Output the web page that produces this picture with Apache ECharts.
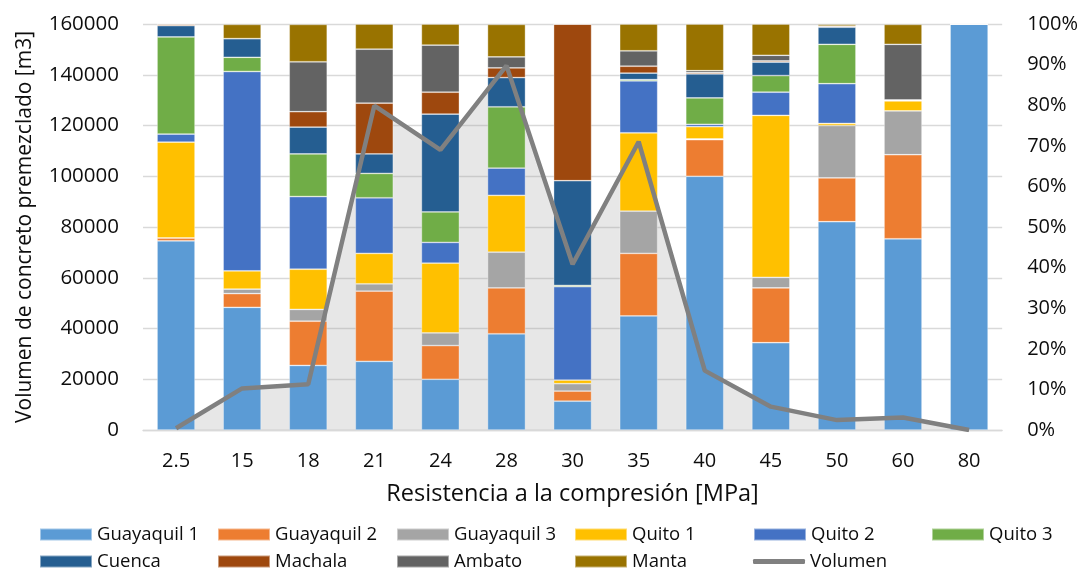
<!DOCTYPE html>
<html>
<head>
<meta charset="utf-8">
<script src="https://cdn.jsdelivr.net/npm/echarts@6/dist/echarts.min.js"></script>
<style>
  html, body { margin: 0; padding: 0; background: #ffffff; }
  #chart { width: 1081px; height: 571px; }
</style>
</head>
<body>
<div id="chart"></div>
<script>
// Resistencia del concreto premezclado (MPa) por categoría
const categories = ['2.5', '15', '18', '21', '24', '28', '30', '35', '40', '45', '50', '60', '80'];

// Participación de cada planta en el volumen de cada resistencia (%)
const guayaquil1 = [46.6, 30.2, 15.9, 16.9, 12.5, 23.7, 7.1, 28.1, 62.5, 21.5, 51.3, 47.1, 100];
const guayaquil2 = [0.7, 3.4, 10.9, 17.3, 8.3, 11.3, 2.5, 15.4, 9.0, 13.5, 10.8, 20.7, 0];
const guayaquil3 = [0, 1.1, 2.9, 1.8, 3.1, 8.8, 1.8, 10.4, 0.2, 2.6, 12.9, 10.8, 0];
const quito1     = [23.6, 4.5, 9.9, 7.5, 17.2, 14.0, 0.9, 19.3, 3.0, 39.9, 0.5, 2.5, 0];
const quito2     = [2.0, 49.1, 17.9, 13.7, 5.1, 6.7, 23.0, 12.8, 0.6, 5.7, 9.8, 0, 0];
const quito3     = [23.9, 3.5, 10.5, 6.0, 7.5, 15.1, 0.3, 0.3, 6.5, 4.1, 9.7, 0, 0];
const cuenca     = [2.8, 4.6, 6.6, 4.8, 24.1, 7.2, 25.8, 1.6, 5.9, 3.3, 4.2, 0, 0];
const machala    = [0.4, 0, 3.8, 12.5, 5.4, 2.4, 38.6, 1.7, 0.3, 0.3, 0.3, 0.2, 0];
const ambato     = [0, 0, 12.3, 13.3, 11.6, 2.7, 0, 3.8, 0.5, 1.4, 0, 13.7, 0];
const manta      = [0, 3.5, 9.2, 6.2, 5.2, 8.0, 0, 6.6, 11.5, 7.7, 0.4, 4.9, 0];

// Volumen total de concreto premezclado (m3)
const volumen = [700, 16400, 18000, 127800, 110400, 143600, 65300, 113600, 23400, 9200, 3900, 4900, 0];

// Escalas de los ejes
const leftTicks = { min: 0, max: 160000, interval: 20000 };
const rightTicks = { min: 0, max: 100, interval: 10 };

const FONT = '"Open Sans", "Noto Sans", sans-serif';
const TEXT = '#0d0d0d';

const plants = [
  { name: 'Guayaquil 1', data: guayaquil1, color: '#5B9BD5' },
  { name: 'Guayaquil 2', data: guayaquil2, color: '#ED7D31' },
  { name: 'Guayaquil 3', data: guayaquil3, color: '#A5A5A5' },
  { name: 'Quito 1',     data: quito1,     color: '#FFC000' },
  { name: 'Quito 2',     data: quito2,     color: '#4472C4' },
  { name: 'Quito 3',     data: quito3,     color: '#70AD47' },
  { name: 'Cuenca',      data: cuenca,     color: '#255E91' },
  { name: 'Machala',     data: machala,    color: '#9E480E' },
  { name: 'Ambato',      data: ambato,     color: '#636363' },
  { name: 'Manta',       data: manta,      color: '#997300' }
];

const LINE_COLOR = '#808080';

// Leyenda en dos filas de seis columnas
const colX = [39, 217, 396, 574, 753, 931];
const rowY = [525, 552];
const legendNames = plants.map(p => p.name).concat(['Volumen']);
const legends = legendNames.map((name, i) => ({
  data: [name],
  left: colX[i % 6],
  top: rowY[Math.floor(i / 6)],
  padding: 0,
  itemWidth: 52,
  itemHeight: name === 'Volumen' ? 5 : 12,
  icon: name === 'Volumen' ? 'roundRect' : 'rect',
  textStyle: { fontFamily: FONT, fontSize: 18.5, color: TEXT },
  selectedMode: false
}));

const series = [];

// Área sombreada bajo la curva de volumen
series.push({
  name: 'Volumen (área)',
  type: 'line',
  yAxisIndex: 0,
  data: volumen,
  symbol: 'none',
  lineStyle: { width: 0 },
  areaStyle: { color: 'rgba(160,160,160,0.36)', origin: 'start' },
  z: 1,
  silent: true
});

plants.forEach(p => {
  series.push({
    name: p.name,
    type: 'bar',
    stack: 'total',
    yAxisIndex: 1,
    barWidth: 38,
    data: p.data,
    itemStyle: { color: p.color, borderColor: 'rgba(255,255,255,0.45)', borderWidth: 0.75 },
    z: 2
  });
});

series.push({
  name: 'Volumen',
  type: 'line',
  yAxisIndex: 0,
  data: volumen,
  symbol: 'none',
  itemStyle: { color: LINE_COLOR },
  lineStyle: { color: LINE_COLOR, width: 4.5 },
  z: 5
});

const option = {
  animation: false,
  backgroundColor: '#ffffff',
  textStyle: { fontFamily: FONT },
  legend: legends,
  grid: { left: 143, right: 76, top: 24, bottom: 141, containLabel: false },
  xAxis: {
    type: 'category',
    data: categories,
    boundaryGap: true,
    axisLine: { show: true, lineStyle: { color: '#d9d9d9', width: 1.3 } },
    axisTick: { show: false },
    axisLabel: { fontFamily: FONT, fontSize: 20, color: TEXT, margin: 21 },
    name: 'Resistencia a la compresión [MPa]',
    nameLocation: 'middle',
    nameGap: 52,
    nameTextStyle: { fontFamily: FONT, fontSize: 23.5, color: TEXT }
  },
  yAxis: [
    {
      type: 'value',
      min: leftTicks.min,
      max: leftTicks.max,
      interval: leftTicks.interval,
      position: 'left',
      axisLine: { show: false },
      axisTick: { show: false },
      splitLine: { show: true, lineStyle: { color: '#d9d9d9', width: 1.3 } },
      axisLabel: { fontFamily: FONT, fontSize: 20.5, color: TEXT, margin: 24, formatter: v => String(v) },
      name: 'Volumen de concreto premezclado [m3]',
      nameLocation: 'middle',
      nameRotate: 90,
      nameGap: 107,
      nameTextStyle: { fontFamily: FONT, fontSize: 21, color: TEXT }
    },
    {
      type: 'value',
      min: rightTicks.min,
      max: rightTicks.max,
      interval: rightTicks.interval,
      position: 'right',
      axisLine: { show: false },
      axisTick: { show: false },
      splitLine: { show: false },
      axisLabel: { fontFamily: FONT, fontSize: 20, color: TEXT, margin: 25, formatter: v => v + '%' }
    }
  ],
  series: series
};

const chart = echarts.init(document.getElementById('chart'), null, { renderer: 'canvas' });
chart.setOption(option);
</script>
</body>
</html>
